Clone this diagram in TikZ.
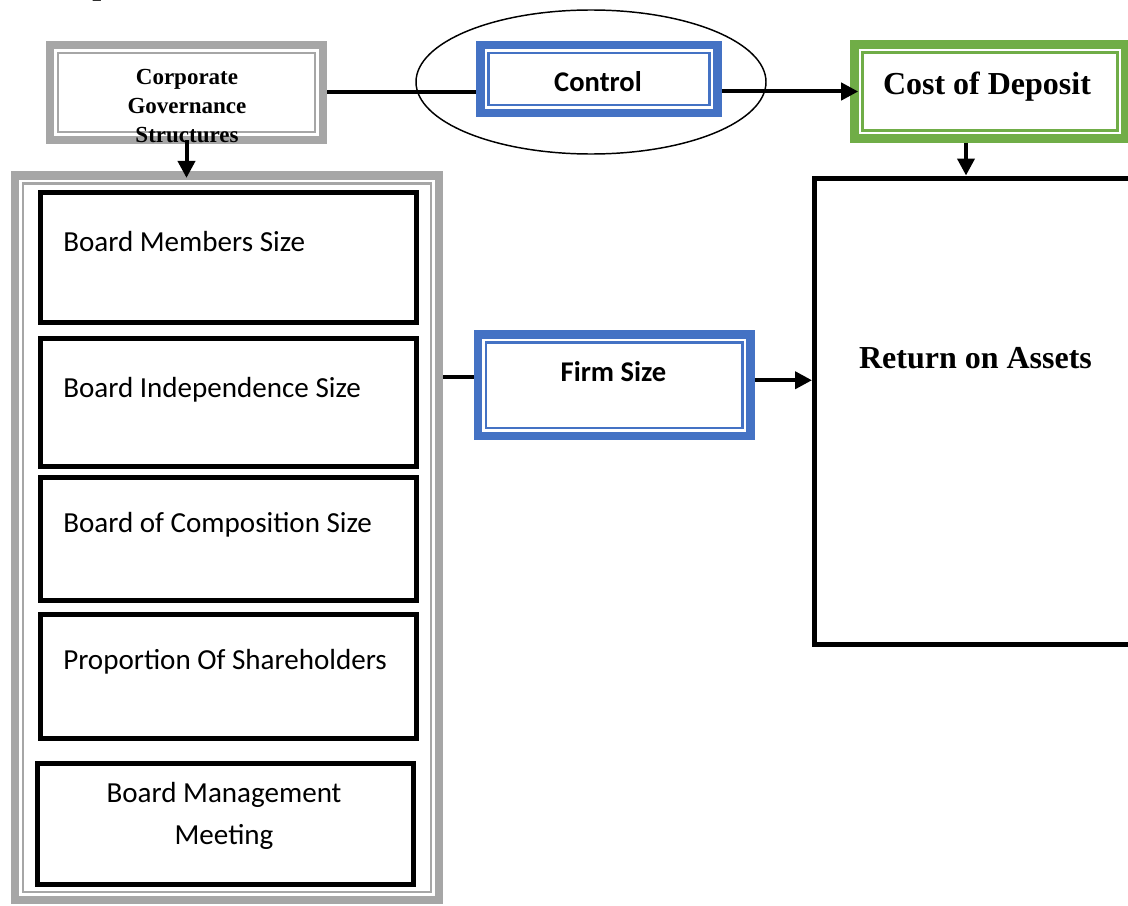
\documentclass[tikz,border=0pt]{standalone}
\usepackage{fontspec}
\setmainfont{Liberation Serif}
\newfontfamily\calibri{Carlito}
\usetikzlibrary{fit,shapes.geometric,arrows.meta,calc}
\definecolor{frgray}{HTML}{A6A6A6}
\definecolor{frblue}{HTML}{4472C4}
\definecolor{frgreen}{HTML}{70AD47}
\begin{document}
\begin{tikzpicture}[x=0.75pt,y=-0.75pt,
  frame/.style={draw=#1, line width=6.4pt, fill=white, inner sep=0pt,
    path picture={\draw[#1, line width=2pt]
      ([shift={(6pt,-6pt)}]path picture bounding box.north west) rectangle
      ([shift={(-6pt,6pt)}]path picture bounding box.south east);}},
  blackbox/.style={draw=black, line width=3.75pt, fill=white, inner sep=0pt},
  conn/.style={draw=black, line width=3pt},
  arr/.style={conn, -{Triangle[length=12.75pt,width=12.75pt]}},
  sertext/.style={font=\bfseries\fontsize{24}{29}\selectfont, inner sep=0pt},
  ctext/.style={font=\calibri\bfseries\fontsize{21.4}{26}\selectfont, inner sep=0pt},
  btext/.style={font=\calibri\fontsize{21.8}{31.7}\selectfont, inner sep=0pt}
]
\path[use as bounding box, fill=white] (0,0) rectangle (1128,906);
\clip (0,0) rectangle (1128,906);

% heading fragment
\node[sertext, anchor=base west] (head) at (92,-5) {p};

% ellipse around control
\node[draw=black, line width=1.1pt, ellipse, minimum width=262.5pt, minimum height=108pt, inner sep=0pt] (ell) at (591,82) {};

% frames
\node[frame=frgray, fit={(50,45) (323,140)}] (corp) {};
\node[frame=frblue, fit={(480.3,45) (717.5,113)}] (ctrl) {};
\node[frame=frgreen, fit={(854.5,44.5) (1125.5,138.5)}] (cost) {};
\node[frame=frgray, fit={(15,175.5) (439,900)}] (big) {};
\node[frame=frblue, fit={(478,334.5) (750.5,436)}] (firm) {};
\node[blackbox, fit={(814.5,178) (1150,644)}] (roa) {};

% inner boxes
\node[blackbox, fit={(40,192) (416.5,322)}] (b1) {};
\node[blackbox, fit={(40,338) (416.5,466)}] (b2) {};
\node[blackbox, fit={(40,477) (416.5,600)}] (b3) {};
\node[blackbox, fit={(40,614) (416.5,738)}] (b4) {};
\node[blackbox, fit={(37,763) (413.7,884.7)}] (b5) {};

% texts
\node[font=\bfseries\fontsize{17.25}{21.4}\selectfont, align=center, inner sep=0pt] (corptext) at (187,106) {Corporate\\Governance\\Structures};
\node[ctext, anchor=base] (ctrltext) at (598,92) {Control};
\node[sertext, anchor=base] (costtext) at (987,94) {Cost of Deposit};
\node[sertext, anchor=base] (roatext) at (975.5,368) {Return on Assets};
\node[ctext, anchor=base] (firmtext) at (613.5,381.7) {Firm Size};
\node[btext, anchor=base west] (t1) at (63,251) {Board Members Size};
\node[btext, anchor=base west] (t2) at (63,397) {Board Independence Size};
\node[btext, anchor=base west] (t3) at (63,532) {Board of Composition Size};
\node[btext, anchor=base west] (t4) at (63,669) {Proportion Of Shareholders};
\node[btext, align=center] (t5) at (224,816) {Board Management\\Meeting};

% connectors
\draw[conn] (corp.east) -- (corp.east -| ctrl.west);
\draw[arr, shorten >=-6pt] (ctrl.east |- cost.west) -- (cost.west);
\draw[arr, shorten >=-5pt] ([yshift=3pt]corp.south) -- (corp.south |- big.north);
\draw[arr] ([xshift=-18pt]cost.south) -- ([xshift=-18pt]cost.south |- roa.north);
\draw[conn] ([yshift=6pt]big.east |- firm.west) -- ([yshift=6pt]firm.west);
\draw[arr] ([yshift=3.75pt]firm.east) -- ([yshift=3.75pt]firm.east -| roa.west);
\end{tikzpicture}
\end{document}
